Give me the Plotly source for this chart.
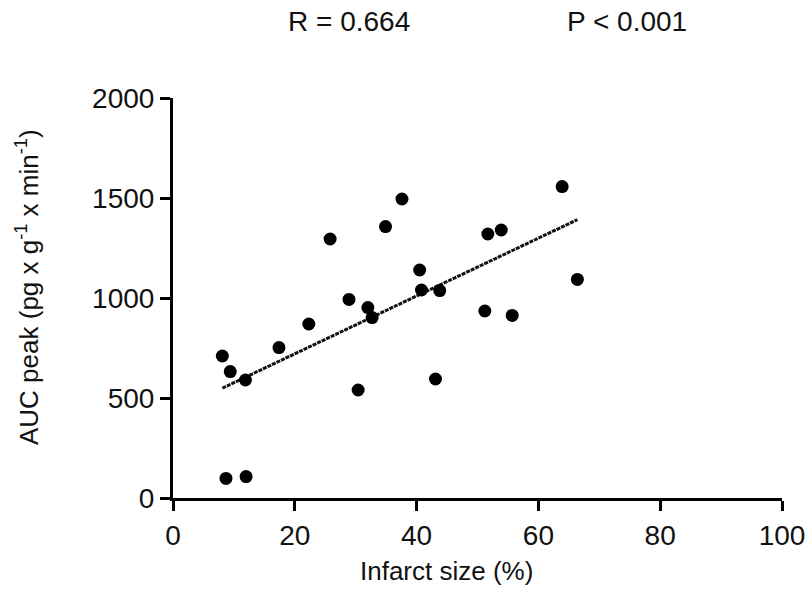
import numpy as np
import plotly.graph_objects as go

infarct_size = [8.1, 9.4, 11.9, 8.7, 12.0, 17.4, 22.3, 25.8, 28.9, 30.4, 32.0, 32.7,
                34.9, 37.6, 40.5, 40.8, 43.8, 43.1, 51.2, 51.7, 53.9, 55.7, 63.9, 66.4]
auc_peak = [710, 632, 590, 98, 107, 752, 870, 1295, 993, 540, 952, 902,
            1357, 1495, 1140, 1040, 1037, 595, 935, 1320, 1340, 913, 1557, 1093]
x_ticks = [0, 20, 40, 60, 80, 100]
y_ticks = [0, 500, 1000, 1500, 2000]
r_text = "R = 0.664"
p_text = "P < 0.001"

x = np.array(infarct_size)
y = np.array(auc_peak)
slope, intercept = np.polyfit(x, y, 1)
fit_x = np.array([x.min(), x.max()])
fit_y = slope * fit_x + intercept

FONT = "Liberation Sans, Arial, sans-serif"
FS = 28
FS_TITLE = 26

W, H = 810, 590
L, R, T, B = 173, 28, 98, 92
PW = W - L - R
PH = H - T - B


def px(xp):
    return (xp - L) / PW


def py(yp):
    return (H - B - yp) / PH


fig = go.Figure()
fig.add_trace(go.Scatter(x=fit_x, y=fit_y, mode="lines",
                         line=dict(color="#111", width=3, dash="4px,1px"),
                         showlegend=False, hoverinfo="skip"))
fig.add_trace(go.Scatter(x=infarct_size, y=auc_peak, mode="markers",
                         marker=dict(color="black", size=13),
                         showlegend=False, cliponaxis=False))

axis_common = dict(showline=True, linecolor="black", linewidth=3, ticks="outside",
                   ticklen=10, tickwidth=3, tickcolor="black", showgrid=False,
                   zeroline=False, automargin=False,
                   tickfont=dict(family=FONT, size=FS, color="#111"))
fig.update_xaxes(range=[0, 100], tickvals=x_ticks, **axis_common)
fig.update_yaxes(range=[0, 2000], tickvals=y_ticks, **axis_common)

ann = dict(xref="paper", yref="paper", showarrow=False, xanchor="center",
           yanchor="middle")
fig.update_layout(
    width=W, height=H,
    margin=dict(l=L, r=R, t=T, b=B),
    plot_bgcolor="white", paper_bgcolor="white",
    font=dict(family=FONT, size=FS, color="#111"),
    annotations=[
        dict(text=r_text, x=px(349), y=py(21), font=dict(family=FONT, size=FS, color="#111"), **ann),
        dict(text=p_text, x=px(627), y=py(21), font=dict(family=FONT, size=FS, color="#111"), **ann),
        dict(text="Infarct size (%)", x=px(446), y=py(571),
             font=dict(family=FONT, size=FS_TITLE, color="#111"), **ann),
        dict(text="AUC peak (pg x g<sup>-1</sup> x min<sup>-1</sup>)", x=px(27), y=py(287),
             textangle=-90, font=dict(family=FONT, size=FS_TITLE, color="#111"), **ann),
    ],
)

fig.write_html("out.html", config={"displayModeBar": False},
               post_script="document.body.style.margin='0';document.body.style.overflow='hidden';")
